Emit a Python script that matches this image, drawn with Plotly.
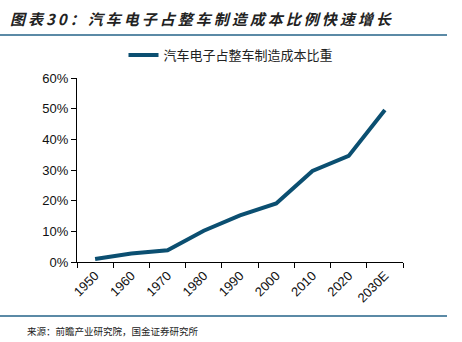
import plotly.graph_objects as go

categories = ["1950", "1960", "1970", "1980", "1990", "2000", "2010", "2020", "2030E"]
share_pct = [1.0, 2.8, 3.8, 10.2, 15.2, 19.1, 29.7, 34.6, 49.6]
series_name = "汽车电子占整车制造成本比重"
y_ticks = [0, 10, 20, 30, 40, 50, 60]
y_tick_labels = [f"{v}%" for v in y_ticks]
title_text = "图表30：汽车电子占整车制造成本比例快速增长"
source_text = "来源：前瞻产业研究院，国金证券研究所"

W, H = 462, 342
L, R, T, B = 77, 403, 78, 262

def px_x(p):
    return (p - L) / (R - L)

def px_y(p):
    return (B - p) / (B - T)

fig = go.Figure()
fig.add_trace(go.Scatter(
    x=categories, y=share_pct, mode="lines", name=series_name,
    line=dict(color="#0b4f71", width=4),
))

rule_color = "#5b8aa6"
spaced_title = "\u2009".join(title_text)
fig.update_layout(
    width=W, height=H,
    margin=dict(l=L, r=W - R, t=T, b=H - B),
    paper_bgcolor="white", plot_bgcolor="white",
    font=dict(family="Liberation Sans, Arial, sans-serif", size=12, color="#222"),
    showlegend=True,
    legend=dict(
        orientation="h", x=px_x(231), xanchor="center", y=px_y(55), yanchor="middle",
        font=dict(family="Noto Sans CJK SC", size=13, color="#222"),
        bgcolor="rgba(0,0,0,0)",
    ),
    xaxis=dict(
        type="category", range=[-0.5, 8.5], tickson="boundaries",
        ticks="outside", ticklen=5, tickcolor="black", showline=True,
        linecolor="black", linewidth=1, showgrid=False, tickangle=-45,
        tickfont=dict(size=13, color="#111"), fixedrange=True,
    ),
    yaxis=dict(
        range=[0, 60], tickmode="array", tickvals=y_ticks, ticktext=y_tick_labels,
        ticks="outside", ticklen=5, tickcolor="black", showline=True,
        linecolor="black", linewidth=1, showgrid=False, zeroline=False,
        tickfont=dict(size=13, color="#111"), fixedrange=True,
    ),
    shapes=[
        dict(type="line", xref="paper", yref="paper", x0=px_x(0), x1=px_x(447),
             y0=px_y(35), y1=px_y(35), line=dict(color=rule_color, width=2)),
        dict(type="line", xref="paper", yref="paper", x0=px_x(0), x1=px_x(447),
             y0=px_y(316), y1=px_y(316), line=dict(color=rule_color, width=2)),
    ],
    annotations=[
        dict(text=f"<b><i>{spaced_title}</i></b>",
             xref="paper", yref="paper", x=px_x(8), y=px_y(18),
             xanchor="left", yanchor="middle", showarrow=False,
             font=dict(family="Noto Sans CJK SC", size=15, color="#222")),
        dict(text=source_text,
             xref="paper", yref="paper", x=px_x(25), y=px_y(331),
             xanchor="left", yanchor="middle", showarrow=False,
             font=dict(family="Noto Sans CJK SC", size=9.5, color="#222")),
    ],
)

fig.write_html("out.html")
